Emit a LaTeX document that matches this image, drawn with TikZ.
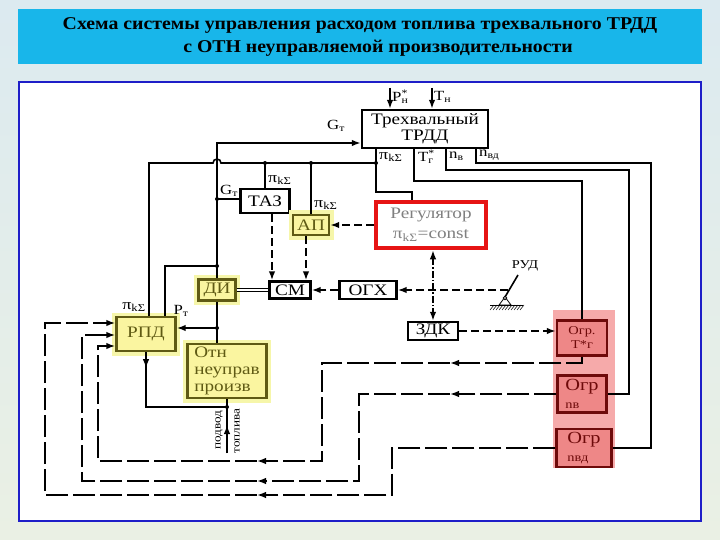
\documentclass[tikz,border=0pt]{standalone}
\usepackage{fontspec}
\setmainfont{Liberation Serif}[FakeStretch=1.2]
\newfontfamily\titlefont{Liberation Serif}[FakeStretch=1.1]
\usetikzlibrary{arrows.meta}

\newcommand{\pik}{π\textsubscript{kΣ}}
\newcommand{\supsub}[2]{\rlap{\textsuperscript{#1}}\textsubscript{#2}}

\begin{document}
\begin{tikzpicture}[x=1pt,y=-1pt,
  blk/.style={draw,line width=2.4pt,fill=white,inner sep=1pt,font=\fontsize{16}{17}\selectfont},
  yel/.style={blk,draw=olivec,fill=yelc,text=olivec,preaction={draw=haloc,line width=9pt}},
  ogr/.style={blk,draw=ogrbd,fill=ogrc,text=ogrbd,align=left},
  ln/.style={line width=1.6pt},
  arr/.style={ln,-{Latex[length=9pt,width=6.5pt]}},
  dblarr/.style={ln,{Latex[length=9pt,width=6.5pt]}-{Latex[length=9pt,width=6.5pt]}},
  dsh/.style={dash pattern=on 8pt off 4pt},
  ldsh/.style={dash pattern=on 22pt off 5pt},
  ddot/.style={dash pattern=on 7pt off 2pt on 1.5pt off 2pt},
  lbl/.style={font=\fontsize{14}{14}\selectfont,inner sep=0pt}]
% Colours
\definecolor{bgtop}{RGB}{220,234,240}
\definecolor{bgbot}{RGB}{234,240,228}
\definecolor{titlec}{RGB}{24,182,234}
\definecolor{framec}{RGB}{30,30,200}
\definecolor{olivec}{RGB}{95,90,20}
\definecolor{yelc}{RGB}{250,245,160}
\definecolor{haloc}{RGB}{246,246,170}
\definecolor{regc}{RGB}{230,20,20}
\definecolor{pinkc}{RGB}{246,170,170}
\definecolor{ogrc}{RGB}{238,135,135}
\definecolor{ogrbd}{RGB}{110,10,10}

\useasboundingbox (0,0) rectangle (720,540);
\shade[top color=bgtop,bottom color=bgbot] (0,0) rectangle (720,540);

% Title
\fill[titlec] (18,9) rectangle (702,64);
\node[font=\titlefont\bfseries\fontsize{18}{23}\selectfont,align=center] (title) at (360,37)
  {Схема системы управления расходом топлива трехвального ТРДД\\
   \hspace{2em}с ОТН неуправляемой производительности};

% Frame
\draw[framec,line width=2pt,fill=white] (19,82) rectangle (701,521);

% Blocks
\node[blk,minimum width=126pt,minimum height=38pt,align=center,font=\fontsize{16}{16}\selectfont] (trdd) at (425,129) {Трехвальный\\ТРДД};
\node[blk,minimum width=49pt,minimum height=24pt] (taz) at (265,201) {ТАЗ};
\node[yel,minimum width=36pt,minimum height=20pt] (ap) at (311,225) {АП};
\node[blk,draw=regc,line width=4.5pt,text=gray,minimum width=110pt,minimum height=46pt,align=center,font=\fontsize{16}{20}\selectfont] (reg) at (431,225) {Регулятор\\\pik=const};
\node[yel,minimum width=37pt,minimum height=21pt] (di) at (217,290) {ДИ};
\node[blk,minimum width=41pt,minimum height=17pt] (cm) at (290,290) {СМ};
\node[blk,minimum width=57pt,minimum height=18pt] (ogh) at (368,290) {ОГХ};
\node[blk,minimum width=50pt,minimum height=18pt] (zdk) at (433,331) {ЗДК};
\node[yel,minimum width=59pt,minimum height=34pt] (rpd) at (146,334) {РПД};
\node[yel,minimum width=79pt,minimum height=54pt,align=left,font=\fontsize{16}{17}\selectfont] (otn) at (227,371) {Отн\\неуправ\\произв};

% Limiters
\fill[pinkc] (553,310) rectangle (615,468);
\node[ogr,minimum width=50pt,minimum height=35pt,align=center,font=\fontsize{12}{14}\selectfont] (ogrT) at (582,338) {Огр.\\Т*г};
\node[ogr,minimum width=49pt,minimum height=37pt,font=\fontsize{17}{18}\selectfont] (ogrNv) at (582,394) {Огр\\{\fontsize{12}{12}\selectfont nв}};
\node[ogr,minimum width=55pt,minimum height=38pt,font=\fontsize{17}{18}\selectfont] (ogrNvd) at (584,448) {Огр\\{\fontsize{12}{12}\selectfont nвд}};

% Engine inputs
\coordinate (pin) at (390,88);
\coordinate (tin) at (432,88);
\draw[arr] (pin) -- (pin |- trdd.north);
\draw[arr] (tin) -- (tin |- trdd.north);
\node[lbl,anchor=west] (pinL) at (392,97) {P\supsub{*}{н}};
\node[lbl,anchor=west] (tinL) at (434,97) {T\textsubscript{н}};

% Fuel flow to engine and TAZ
\coordinate (jgtop) at (217,143);
\coordinate (jgt) at (217,199);
\coordinate (jpt) at (217,266);
\draw[arr] (di.north) -- (jgtop) -- (jgtop -| trdd.west);
\node[lbl] (gtL) at (336,126) {G\textsubscript{т}};
\draw[ln] (jgt) -- (jgt -| taz.west);
\fill (jgt) circle (2pt);
\node[lbl] (gtL2) at (229,191) {G\textsubscript{т}};
\draw[ln] (jpt) -- (165,266) -- (165,0 |- rpd.north);
\fill (jpt) circle (2pt);
\node[lbl] (ptL) at (181,311) {P\textsubscript{т}};

% Pressure ratio signal
\coordinate (jpi) at (376,163);
\coordinate (jtaz) at (265,163);
\coordinate (jap) at (311,163);
\draw[ln] (376,0 |- trdd.south) -- (376,192) -- (412,192) -- (412,0 |- reg.north);
\draw[ln] (jpi) -- (221,163) arc[start angle=0,end angle=180,radius=4pt] -- (149,163) -- (149,0 |- rpd.north);
\draw[ln] (jtaz) -- (taz.north);
\draw[ln] (jap) -- (ap.north);
\foreach \j in {jpi,jtaz,jap} \fill (\j) circle (2pt);
\node[lbl,font=\fontsize{15}{15}\selectfont,anchor=west] (piL1) at (379,157) {\pik};
\node[lbl,font=\fontsize{15}{15}\selectfont,anchor=west] (piL2) at (268,180) {\pik};
\node[lbl,font=\fontsize{15}{15}\selectfont,anchor=west] (piL3) at (314,205) {\pik};
\node[lbl,font=\fontsize{15}{15}\selectfont] (piL4) at (134,307) {\pik};

% Engine outputs to limiters
\draw[ln] (414,0 |- trdd.south) -- (414,181) -| (ogrT.north);
\draw[ln] (446,0 |- trdd.south) -- (446,170) -- (629,170) |- (ogrNv.east);
\draw[ln] (476,0 |- trdd.south) -- (476,163) -- (651,163) |- (ogrNvd.east);
\node[lbl,anchor=west] (tgL) at (418,157) {T\supsub{*}{г}};
\node[lbl,anchor=west] (nvL) at (449,156) {n\textsubscript{в}};
\node[lbl,anchor=west] (nvdL) at (479,155) {n\textsubscript{вд}};

% Control signals
\draw[arr,dsh] (taz.south -| 272,0) -- (272,0 |- cm.north);
\draw[arr,dsh] (ap.south -| 306,0) -- (306,0 |- cm.north);
\draw[arr,dsh] (reg.west) -- (ap.east);
\draw[ln,double,double distance=2.5pt,line width=1.1pt] (di.east) -- (cm.west);
\draw[arr,dsh] (ogh.west) -- (cm.east);
\coordinate (rud) at (508,290);
\draw[arr,dsh] (rud) -- (ogh.east);
\draw[dblarr,ddot] (reg.south -| 433,0) -- (433,0 |- zdk.north);
\draw[arr,dsh] (zdk.east) -- (zdk.east -| ogrT.west);

% Throttle lever
\node[lbl,font=\fontsize{12}{12}\selectfont] (rudL) at (525,266) {РУД};
\draw[ln] (518,275) -- (505,297);
\draw[line width=0.8pt] (505,297) -- (499,305) -- (511,305) -- cycle;
\draw[line width=0.8pt,fill=white] (505,298) circle (1.8pt);
\draw[line width=0.8pt] (490,305) -- (523,305);
\foreach \x in {490,493,...,520} \draw[line width=0.5pt] (\x,310) -- (\x+4,305);

% Limiter outputs to RPD
\coordinate (mT) at (450,363);
\coordinate (mV) at (450,394);
\coordinate (bT) at (257,461);
\coordinate (bV) at (257,481);
\coordinate (bVd) at (257,495);
\draw[arr,ldsh] (ogrT.south) |- (mT);
\draw[arr,ldsh] (mT) -- (322,363) |- (bT);
\draw[arr,ldsh] (bT) -| (98,346) -- (rpd.west |- 0,346);
\draw[arr,ldsh] (ogrNv.west) -- (mV);
\draw[arr,ldsh] (mV) -- (359,394) |- (bV);
\draw[arr,ldsh] (bV) -| (82,335) -- (rpd.west |- 0,335);
\draw[arr,ldsh] (ogrNvd.west) -- (392,448) |- (bVd);
\draw[arr,ldsh] (bVd) -| (45,323) -- (rpd.west |- 0,323);

% Dispenser and fuel supply
\coordinate (jdi) at (217,328);
\coordinate (jfuel) at (227,407);
\coordinate (fuel) at (227,453);
\draw[ln] (di.south) -- (di.south |- otn.north);
\draw[arr] (jdi) -- (jdi -| rpd.east);
\fill (jdi) circle (2pt);
\draw[arr] (rpd.south) -- ++(0,16);
\draw[ln] (rpd.south) |- (jfuel);
\draw[ln] (otn.south -| jfuel) -- (jfuel);
\fill (jfuel) circle (2pt);
\draw[ln] (fuel) -- (jfuel);
\draw[arr] (fuel) -- ++(0,-28);
\node[lbl,rotate=90,font=\fontsize{11}{11}\selectfont] (fuelL) at (219,430) {подвод};
\node[lbl,rotate=90,font=\fontsize{11}{11}\selectfont] (fuelR) at (237,431) {топлива};
\end{tikzpicture}
\end{document}
